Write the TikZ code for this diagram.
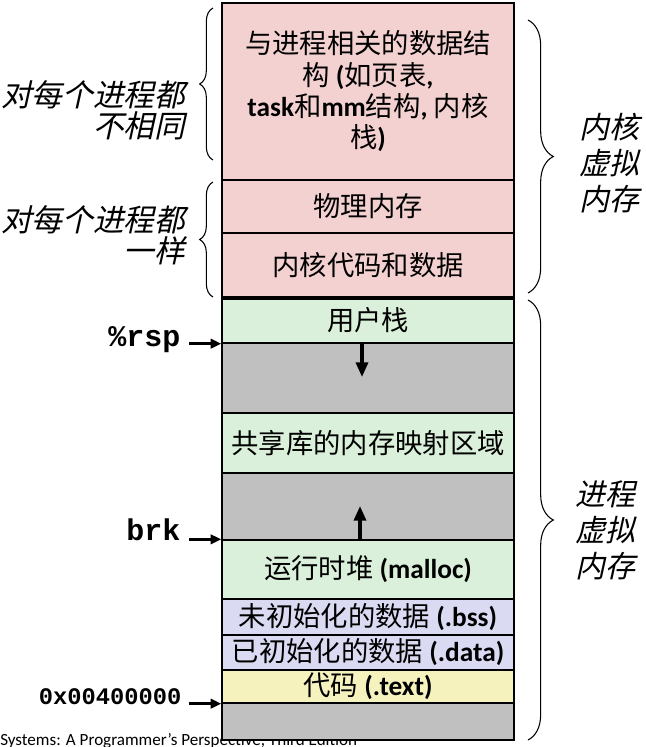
\documentclass[tikz,border=0pt]{standalone}
\usepackage{fontspec}
\setmainfont{Carlito}
\setmonofont{Liberation Mono}
\newfontfamily\cjk{Noto Sans CJK SC}
\newfontfamily\cjkit[FakeSlant=0.22]{Noto Sans CJK SC}
\newcommand{\zi}[1]{{\cjk #1}}
\usetikzlibrary{arrows.meta,decorations.pathreplacing}
\definecolor{kpink}{HTML}{F4D1D1}
\definecolor{ugreen}{HTML}{DAF0DA}
\definecolor{ugray}{HTML}{C0C0C0}
\definecolor{dlav}{HTML}{DADAF2}
\definecolor{cyel}{HTML}{F5F2BE}
\tikzset{
  seg/.style={draw, line width=1pt, minimum width=219pt, inner sep=0pt, align=center,
    font=\fontsize{20.5}{23.5}\selectfont},
  kern/.style={seg, fill=kpink},
  user/.style={seg, fill=ugreen},
  hole/.style={seg, fill=ugray},
  dseg/.style={seg, fill=dlav},
  cseg/.style={seg, fill=cyel},
  side/.style={align=right, font=\cjkit\fontsize{23}{23}\selectfont},
  vmlbl/.style={align=center, font=\cjkit\fontsize{22.5}{27}\selectfont},
  ptrlbl/.style={font=\ttfamily\bfseries\fontsize{22.5}{24}\selectfont},
  ptr/.style={-{Triangle[length=8pt,width=7pt]}, line width=2pt},
  growarrow/.style={-{Triangle[length=11pt,width=9pt]}, line width=2.5pt},
  brc/.style={decorate, line width=0.8pt},
}
\begin{document}
\begin{tikzpicture}[x=0.75pt,y=-0.75pt]
\useasboundingbox (0,0) rectangle (646,747);

% source line, under the boxes
\node[anchor=base west, inner sep=0pt, font=\fontsize{12.8}{14}\selectfont] (src) at (0,745)
  {Systems: A Programmer’s Perspective, Third Edition};

% kernel virtual memory
\node[kern, minimum height=132.75pt] (kds) at (368,91.5)
  {\zi{与进程相关的数据结}\\\zi{构} \textbf{(}\zi{如页表}\textbf{,}\\
   \textbf{task}\zi{和}\textbf{mm}\zi{结构}\textbf{,} \zi{内核}\\\zi{栈}\textbf{)}};
\node[kern, minimum height=39.75pt] (phys) at (368,206.5) {\zi{物理内存}};
\node[kern, minimum height=48pt] (kcode) at (368,265) {\zi{内核代码和数据}};

% process virtual memory
\node[user, minimum height=33.75pt] (ustack) at (368,320.5) {\zi{用户栈}};
\node[hole, minimum height=52.5pt] (gap1) at (368,378) {};
\node[user, minimum height=45pt] (shlib) at (368,443) {\zi{共享库的内存映射区域}};
\node[hole, minimum height=50.25pt] (gap2) at (368,506.5) {};
\node[user, minimum height=44.25pt] (heap) at (368,569.5) {\zi{运行时堆} \textbf{(malloc)}};
\node[dseg, minimum height=27pt] (bss) at (368,617) {\zi{未初始化的数据} \textbf{(.bss)}};
\node[dseg, minimum height=26.25pt] (data) at (368,652.5) {\zi{已初始化的数据} \textbf{(.data)}};
\node[cseg, minimum height=24.75pt] (text) at (368,686.5) {\zi{代码} \textbf{(.text)}};
\node[hole, minimum height=27.75pt] (gap3) at (368,721.5) {};

\draw[line width=3pt] (kcode.south west) -- (kcode.south east);

% growth arrows
\coordinate (downtip) at (362,377);
\coordinate (uptip) at (360,506);
\draw[growarrow] (ustack.south -| downtip) -- (downtip);
\draw[growarrow] (gap2.south -| uptip) -- (uptip);

% pointers
\node[ptrlbl, anchor=east] (rsp) at (185,340) {\%rsp};
\node[ptrlbl, anchor=east] (brk) at (185,530) {brk};
\node[ptrlbl, anchor=east, font=\ttfamily\bfseries\fontsize{17.8}{19}\selectfont] (start) at (186,697) {0x00400000};
\draw[ptr] ([xshift=3pt]rsp.east |- ustack.south west) -- (ustack.south west);
\draw[ptr] ([xshift=3pt]brk.east |- heap.north west) -- (heap.north west);
\draw[ptr] ([xshift=2pt]start.east |- text.south west) -- (text.south west);

% braces
\draw[brc, decoration={brace, amplitude=10pt}] (213,160) -- (213,8);
\draw[brc, decoration={brace, amplitude=10pt}] (213,297) -- (213,182);
\draw[brc, decoration={brace, amplitude=19pt}] (528,20) -- (528,293);
\draw[brc, decoration={brace, amplitude=19pt}] (528,300) -- (528,740);

\node[side, anchor=east] (diff) at (190,110) {对每个进程都\\不相同};
\node[side, anchor=east] (same) at (190,235) {对每个进程都\\一样};
\node[vmlbl] (kvm) at (609,163) {内核\\虚拟\\内存};
\node[vmlbl] (pvm) at (605,530) {进程\\虚拟\\内存};
\end{tikzpicture}
\end{document}
